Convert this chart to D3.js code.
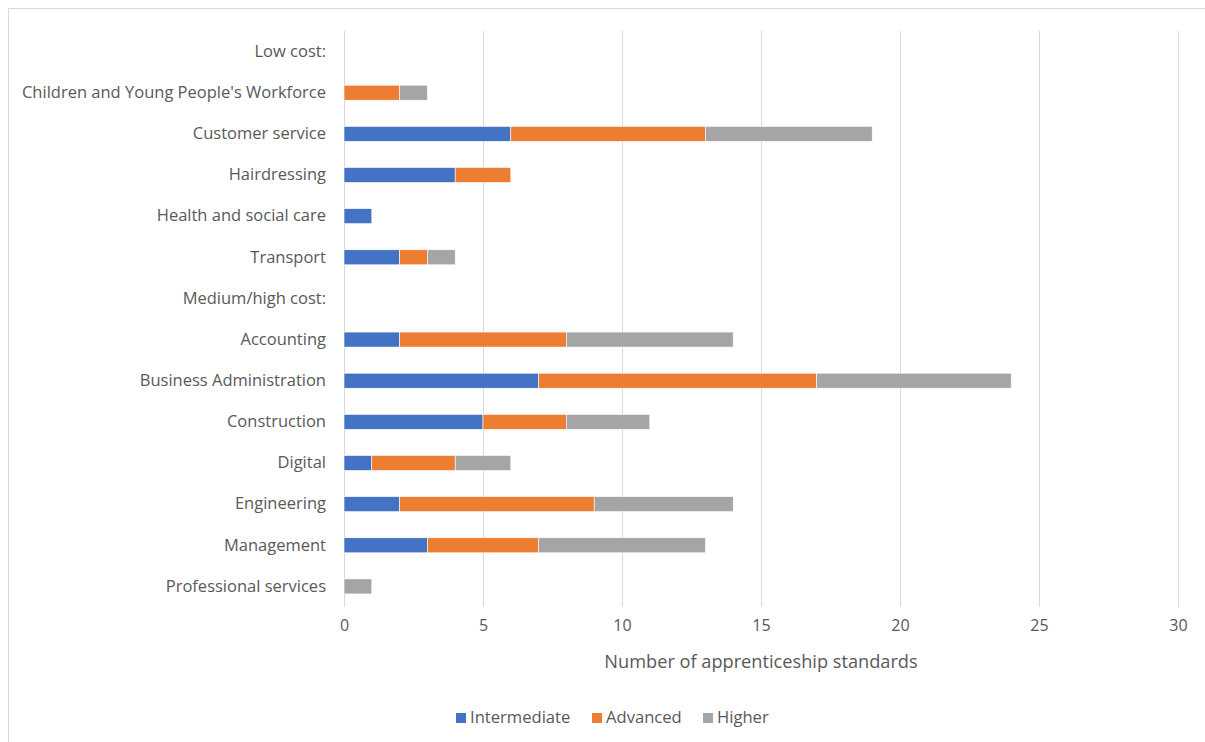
<!DOCTYPE html>
<html>
<head>
<meta charset="utf-8">
<script src="https://cdn.jsdelivr.net/npm/d3@7"></script>
<style>
  html, body { margin: 0; padding: 0; background: #fff; }
  svg { display: block; }
  text { font-family: "Open Sans", "Liberation Sans", sans-serif; fill: #595959; }
</style>
</head>
<body>
<svg id="chart" width="1205" height="742"></svg>
<script>
// Apprenticeship standards by route and level
const categories = [
  "Low cost:",
  "Children and Young People's Workforce",
  "Customer service",
  "Hairdressing",
  "Health and social care",
  "Transport",
  "Medium/high cost:",
  "Accounting",
  "Business Administration",
  "Construction",
  "Digital",
  "Engineering",
  "Management",
  "Professional services"
];
const intermediate = [0, 0, 6, 4, 1, 2, 0, 2, 7, 5, 1, 2, 3, 0];
const advanced     = [0, 2, 7, 2, 0, 1, 0, 6, 10, 3, 3, 7, 4, 0];
const higher       = [0, 1, 6, 0, 0, 1, 0, 6, 7, 3, 2, 5, 6, 1];
const seriesNames  = ["Intermediate", "Advanced", "Higher"];
const seriesColors = ["#4472C4", "#ED7D31", "#A5A5A5"];
const xTicks = [0, 5, 10, 15, 20, 25, 30];
const xTitle = "Number of apprenticeship standards";

const rows = categories.map((c, i) => ({
  category: c,
  Intermediate: intermediate[i],
  Advanced: advanced[i],
  Higher: higher[i]
}));

const svg = d3.select("#chart");
const margin = { left: 344, right: 1178, top: 31, bottom: 607 };

// outer chart frame
svg.append("rect")
  .attr("x", 8.5).attr("y", 8.5)
  .attr("width", 1210).attr("height", 750)
  .attr("fill", "none").attr("stroke", "#d9d9d9").attr("stroke-width", 1);

const x = d3.scaleLinear().domain([0, 30]).range([margin.left, margin.right]);
const y = d3.scaleBand().domain(categories).range([margin.top, margin.bottom]).paddingInner(0.635).paddingOuter(0.3175);

// vertical gridlines
svg.append("g").selectAll("line").data(xTicks).join("line")
  .attr("x1", d => Math.round(x(d)) + 0.5).attr("x2", d => Math.round(x(d)) + 0.5)
  .attr("y1", margin.top).attr("y2", margin.bottom)
  .attr("stroke", "#d9d9d9").attr("stroke-width", 1);

// stacked bars
const stack = d3.stack().keys(seriesNames)(rows);
const color = d3.scaleOrdinal().domain(seriesNames).range(seriesColors);
svg.append("g").selectAll("g").data(stack).join("g")
  .attr("fill", d => color(d.key))
  .selectAll("rect").data(d => d.filter(s => s[1] - s[0] > 0)).join("rect")
  .attr("x", d => x(d[0]))
  .attr("width", d => x(d[1]) - x(d[0]))
  .attr("y", d => y(d.data.category))
  .attr("height", y.bandwidth())
  .attr("stroke", "#ffffff").attr("stroke-width", 0.6);

// x axis labels
const xAxis = d3.axisBottom(x).tickValues(xTicks).tickSize(0).tickPadding(0);
const gx = svg.append("g").attr("transform", `translate(0, ${margin.bottom + 13})`).call(xAxis);
gx.select(".domain").remove();
gx.selectAll("text").attr("font-size", 16).attr("fill", "#595959")
  .style("font-family", "'Open Sans', sans-serif");

// y axis labels
const yAxis = d3.axisLeft(y).tickSize(0).tickPadding(18);
const gy = svg.append("g").attr("transform", `translate(${margin.left}, 0)`).call(yAxis);
gy.select(".domain").remove();
gy.selectAll("text").attr("font-size", 16.5).attr("fill", "#595959")
  .style("font-family", "'Open Sans', sans-serif");

// axis title
svg.append("text")
  .attr("x", (margin.left + margin.right) / 2).attr("y", 668)
  .attr("text-anchor", "middle").attr("font-size", 18.2)
  .text(xTitle);

// legend
const legendX = [456, 592, 703];
const lg = svg.append("g").selectAll("g").data(seriesNames).join("g")
  .attr("transform", (d, i) => `translate(${legendX[i]}, 713)`);
lg.append("rect").attr("width", 10).attr("height", 10).attr("fill", d => color(d));
lg.append("text").attr("x", 14).attr("y", 10).attr("font-size", 16.6).text(d => d);
</script>
</body>
</html>
